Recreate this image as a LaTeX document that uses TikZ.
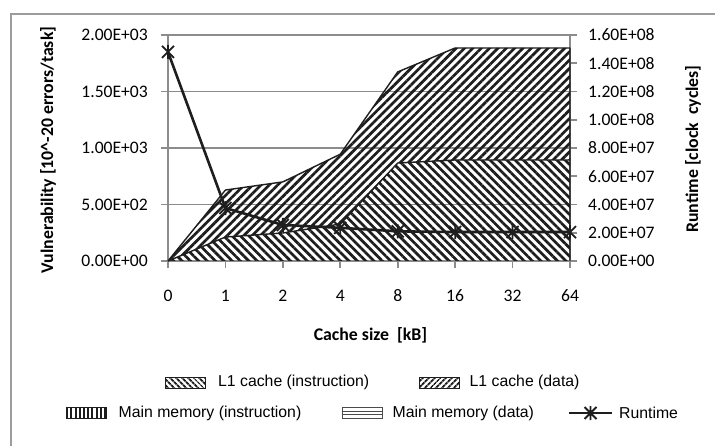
\documentclass[tikz,border=0pt]{standalone}
\usepackage{fontspec}
\setmainfont{Carlito}
\newfontfamily\keyfont{Liberation Sans}
\usetikzlibrary{patterns.meta}
\usetikzlibrary{positioning}
\definecolor{gridgray}{HTML}{8C8C8C}
\definecolor{framegray}{HTML}{9C9C9C}
\definecolor{ink}{HTML}{1E1E1E}

\begin{document}
\begin{tikzpicture}[x=1pt,y=-1pt,
  every node/.style={inner sep=0pt,text=black},
  ticklabel/.style={font=\fontsize{17.6}{20}\selectfont},
  axistitle/.style={font=\fontsize{17.8}{20}\selectfont\bfseries},
  keytext/.style={font=\keyfont\fontsize{15.8}{18}\selectfont,anchor=west},
  keybox/.style={draw=ink,line width=0.9pt,minimum width=40pt,minimum height=11pt},
  gridline/.style={draw=gridgray,line width=1.8pt},
  instrhatch/.style={pattern={Lines[angle=-45,distance=5.9pt,line width=2.7pt]},pattern color=ink},
  datahatch/.style={pattern={Lines[angle=45,distance=5.9pt,line width=2.7pt]},pattern color=ink},
  areaedge/.style={draw=ink,line width=1.4pt,line join=round},
  runline/.style={draw=ink,line width=2.6pt,line join=round},
  runmark/.pic={\draw[ink,line width=1.8pt] (-6,-6) -- (6,6) (-6,6) -- (6,-6) (0,-7) -- (0,7);}
]
  \clip (0,0) rectangle (715,446);
  \fill[white] (0,0) rectangle (715,446);
  \draw[framegray,line width=2pt] (11,14) rectangle (730,460);

  % category positions and the three series
  \foreach \i/\a/\b/\r in {0/0/0/14.8, 1/212/628/3.75, 2/248/700/2.55, 3/327/945/2.35,
      4/867/1673/2.1, 5/894/1885/2.05, 6/894/1885/2.05, 7/894/1885/2.05} {
    \coordinate (b\i) at (168+57.43*\i,261);
    \coordinate (ins\i) at (168+57.43*\i,261-0.113*\a);
    \coordinate (top\i) at (168+57.43*\i,261-0.113*\b);
    \coordinate (run\i) at (168+57.43*\i,261-14.125*\r);
  }

  % grid and axes
  \foreach \v in {500,1000,1500,2000}
    \draw[gridline] (168,261-0.113*\v) -- (570,261-0.113*\v);
  \draw[gridline] (168,35) -- (168,261) -- (570,261) (570,35) -- (570,261);
  \foreach \v in {0,500,...,2000}
    \draw[gridline] (161,261-0.113*\v) -- (168,261-0.113*\v);
  \foreach \r in {0,2,...,16}
    \draw[gridline] (570,261-14.125*\r) -- (577,261-14.125*\r);
  \foreach \i in {0,...,7}
    \draw[gridline] (b\i) -- ++(0,7);

  % stacked areas
  \path[instrhatch] (b0) \foreach \i in {1,...,7}{-- (ins\i)} -- (b7) -- cycle;
  \path[datahatch] (top0) \foreach \i in {1,...,7}{-- (top\i)} \foreach \i in {7,...,0}{-- (ins\i)} -- cycle;
  \draw[areaedge] (ins0) \foreach \i in {1,...,7}{-- (ins\i)};
  \draw[areaedge] (top0) \foreach \i in {1,...,7}{-- (top\i)} -- (b7);

  % runtime on the second axis
  \draw[runline] (run0) \foreach \i in {1,...,7}{-- (run\i)};
  \foreach \i in {0,...,7}
    \pic at (run\i) {runmark};

  % tick labels
  \foreach \v/\t in {0/0.00E+00,500/5.00E+02,1000/1.00E+03,1500/1.50E+03,2000/2.00E+03}
    \node[ticklabel,anchor=east] (vul\v) at (148,261-0.113*\v) {\t};
  \foreach \r/\t in {0/0.00E+00,2/2.00E+07,4/4.00E+07,6/6.00E+07,8/8.00E+07,
      10/1.00E+08,12/1.20E+08,14/1.40E+08,16/1.60E+08}
    \node[ticklabel,anchor=west] (rt\r) at (588,261-14.125*\r) {\t};
  \foreach \i/\k in {0/0,1/1,2/2,3/4,4/8,5/16,6/32,7/64}
    \node[ticklabel] (cat\i) at (168+57.43*\i,295.5) {\k};

  % axis titles
  \node[axistitle] (xtitle) at (370.5,335) {Cache size\ \ [kB]};
  \node[axistitle,rotate=90] (ytitle) at (48,150) {Vulnerability [10\textasciicircum-20 errors/task]};
  \node[axistitle,rotate=90] (rtitle) at (693,149) {Runtime [clock\ \ cycles]};

  % legend
  \node[keybox,pattern={Lines[angle=-45,distance=4pt,line width=2pt]},pattern color=ink] (k1) at (185,382.5) {};
  \node[keytext,right=12pt of k1] (k1t) {L1 cache (instruction)};
  \node[keybox,pattern={Lines[angle=45,distance=4pt,line width=2pt]},pattern color=ink] (k2) at (439.5,382.5) {};
  \node[keytext,right=9pt of k2] (k2t) {L1 cache (data)};
  \node[keybox,pattern={Lines[angle=90,distance=4.2pt,line width=2pt]},pattern color=ink] (k3) at (86.5,413) {};
  \node[keytext,right=11pt of k3] (k3t) {Main memory (instruction)};
  \node[keybox,draw=ink!80] (k4) at (362,413) {};
  \draw[ink!80,line width=0.9pt] (k4.west) ++(0,-1.8) -- ++(40,0) (k4.west) ++(0,1.8) -- ++(40,0);
  \node[keytext,right=10pt of k4] (k4t) {Main memory (data)};
  \coordinate (k5a) at (569,413);
  \coordinate (k5m) at (590.5,413);
  \coordinate (k5b) at (612,413);
  \draw[runline] (k5a) -- (k5b);
  \pic at (k5m) {runmark};
  \node[keytext,right=7pt of k5b] (k5t) {Runtime};
\end{tikzpicture}
\end{document}
